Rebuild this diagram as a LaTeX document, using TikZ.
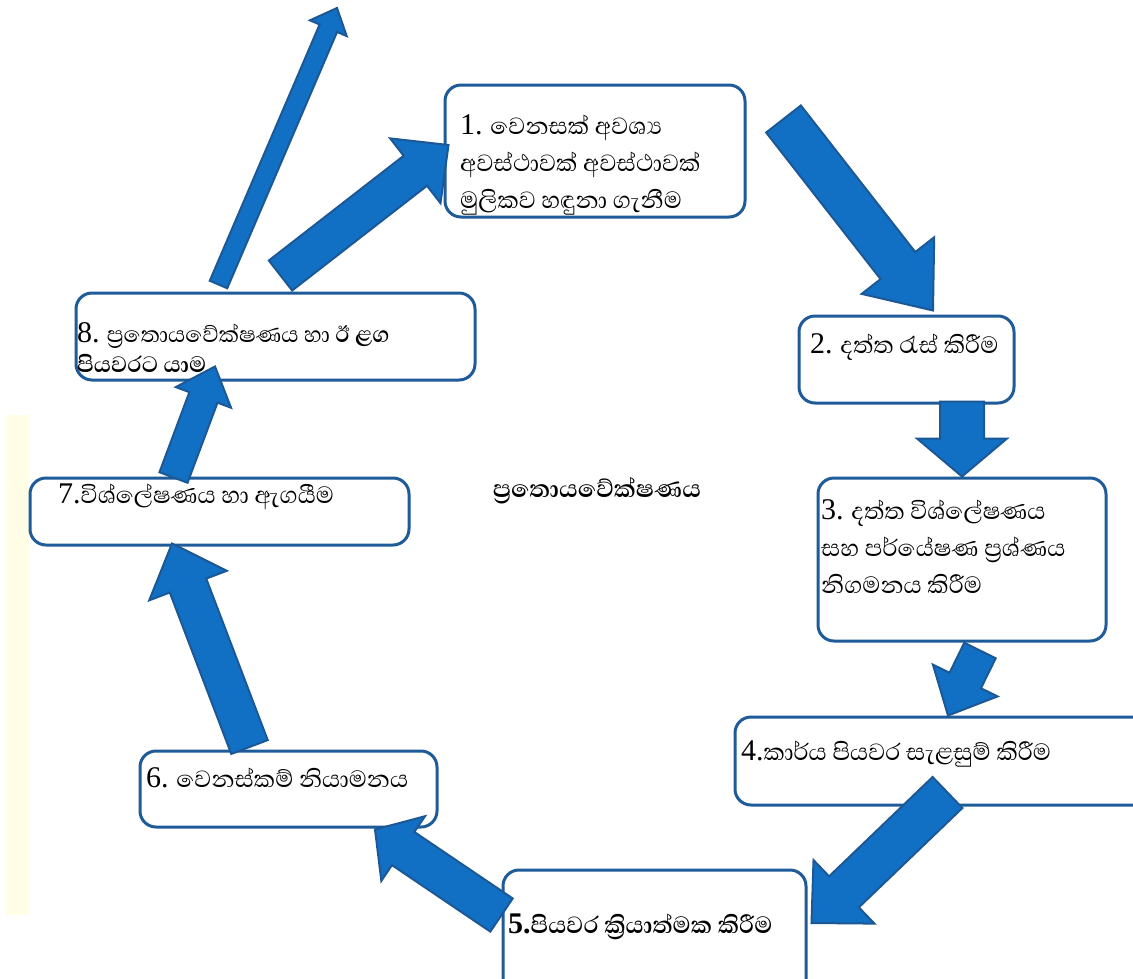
\documentclass[tikz,border=0pt]{standalone}
\usepackage{fontspec}
\setmainfont[Script=Sinhala]{Abhaya Libre}
\newfontfamily\numfont{Liberation Serif}
\usepackage{xcolor}
\usepackage{tikz}
\usetikzlibrary{calc}

\definecolor{boxblue}{HTML}{1F5B99}
\definecolor{arrowblue}{HTML}{1270C4}
\definecolor{arrowedge}{HTML}{1C5896}
\definecolor{stripyellow}{HTML}{FFFDE6}

\tikzset{
  stepbox/.style={draw=boxblue, line width=3pt, rounded corners=16pt, fill=white, inner sep=0pt},
  steptext/.style={anchor=base west, align=left, inner sep=0pt, font=\fontsize{30}{37}\selectfont},
  bigarrow/.style={fill=arrowblue, draw=arrowedge, line width=2pt, line join=miter},
}

% #1 name, #2 tail, #3 tip, #4 half shaft, #5 half head, #6 head length
\newcommand{\blockarrow}[6]{%
  \coordinate (#1-h) at ($(#3)!#6!(#2)$);
  \draw[bigarrow] ($(#2)!#4!90:(#3)$) -- ($(#1-h)!#4!90:(#3)$) -- ($(#1-h)!#5!90:(#3)$)
    -- (#3) -- ($(#1-h)!#5!-90:(#3)$) -- ($(#1-h)!#4!-90:(#3)$) -- ($(#2)!#4!-90:(#3)$) -- cycle;
}

\begin{document}
\begin{tikzpicture}[x=1pt,y=-1pt]
  \useasboundingbox (0,0) rectangle (1133,978);
  \fill[white] (0,0) rectangle (1133,978);
  \fill[stripyellow] (6,415) rectangle (29,915);

  \node[stepbox, minimum width=300pt, minimum height=132pt] (n1) at (595,151) {};
  \node[stepbox, minimum width=215pt, minimum height=87pt] (n2) at (906.5,359.5) {};
  \node[stepbox, minimum width=288pt, minimum height=163pt] (n3) at (962,559.5) {};
  \node[stepbox, minimum width=415pt, minimum height=88pt] (n4) at (942.5,761) {};
  \node[stepbox, minimum width=303pt, minimum height=130pt] (n5) at (654.5,935) {};
  \node[stepbox, minimum width=297pt, minimum height=76pt] (n6) at (288.5,789) {};
  \node[stepbox, minimum width=379pt, minimum height=67pt] (n7) at (219.5,511.5) {};
  \node[stepbox, minimum width=399pt, minimum height=87pt] (n8) at (275.5,336.5) {};

  \node[steptext] (t1) at (460,208) {{\numfont 1.} වෙනසක් අවශ්^^^^200dය\\අවස්ථාවක් අවස්ථාවක්\\මුලිකව හඳුනා ගැනීම};
  \node[steptext] (t2) at (810,353) {{\numfont 2.} දත්ත රැස් කිරීම};
  \node[steptext] (t3) at (821,593) {{\numfont 3.} දත්ත විශ්ලේෂණය\\සහ පර්යේෂණ ප්^^^^200dරශ්ණය\\නිගමනය කිරීම};
  \node[steptext] (t4) at (741,760) {{\numfont 4.}කාර්ය පියවර සැළසුම් කිරීම};
  \node[steptext, font=\fontsize{30}{37}\selectfont\bfseries] (t5) at (508,933) {{\numfont\bfseries 5.}පියවර ක්^^^^200dරියාත්මක කිරීම};
  \node[steptext] (t6) at (146,787) {{\numfont 6.} වෙනස්කම් නියාමනය};
  \node[steptext] (t7) at (58,503) {{\numfont 7.}විශ්ලේෂණය හා ඇගයීම};
  \node[steptext, font=\fontsize{28.5}{30}\selectfont] (t8) at (77,372) {{\numfont\fontsize{30}{30}\selectfont 8.} ප්^^^^200dරතොයවේක්ෂණය හා \textbf{ඊ ළග}\\\textbf{පියවරට යාම}};
  \node[anchor=base, inner sep=0pt, font=\fontsize{31}{31}\selectfont\bfseries] (tc) at (597,497) {ප්^^^^200dරතොයවේක්ෂණය};

  \coordinate (top) at (337,8);
  \coordinate (s81) at ($(n8.north)+(5,-16)$);
  \coordinate (e81) at ($(n1.west)+(5,-6)$);
  \coordinate (s8up) at ($(n8.north)+(-57,-7)$);
  \coordinate (s12) at ($(n1.east)+(37,-32)$);
  \coordinate (e12) at ($(n2.north)+(26.5,-4)$);
  \coordinate (s23) at ($(n2.south)+(55.5,-3)$);
  \coordinate (s34) at ($(n3.south)+(18,8)$);
  \coordinate (e34) at ($(n4.north)+(5.5,0)$);
  \coordinate (s45) at ($(n4.center)+(5,31.5)$);
  \coordinate (e45) at ($(n5.east)+(4,-12)$);
  \coordinate (s56) at ($(n5.west)+(0,-20)$);
  \coordinate (e56) at ($(n6.south)+(86.5,1)$);
  \coordinate (s67) at ($(n6.north)+(-39,-2.5)$);
  \coordinate (e67) at ($(n7.south)+(-47.5,-3)$);
  \coordinate (s78) at ($(n7.north)+(-46,1)$);
  \coordinate (e78) at ($(n8.south)+(-60.5,-15)$);

  \blockarrow{a81}{s81}{e81}{19pt}{41pt}{42pt}
  \blockarrow{a8up}{s8up}{top}{9.5pt}{20pt}{22pt}
  \blockarrow{a12}{s12}{e12}{22pt}{46pt}{57pt}
  \blockarrow{a23}{s23}{n3.north}{22pt}{45pt}{38pt}
  \blockarrow{a34}{s34}{e34}{17.5pt}{36pt}{39pt}
  \blockarrow{a45}{s45}{e45}{21.5pt}{44pt}{45pt}
  \blockarrow{a56}{s56}{e56}{20pt}{39pt}{34pt}
  \blockarrow{a67}{s67}{e67}{19.5pt}{41.5pt}{45pt}
  \blockarrow{a78}{s78}{e78}{15pt}{29.5pt}{33pt}
\end{tikzpicture}
\end{document}
